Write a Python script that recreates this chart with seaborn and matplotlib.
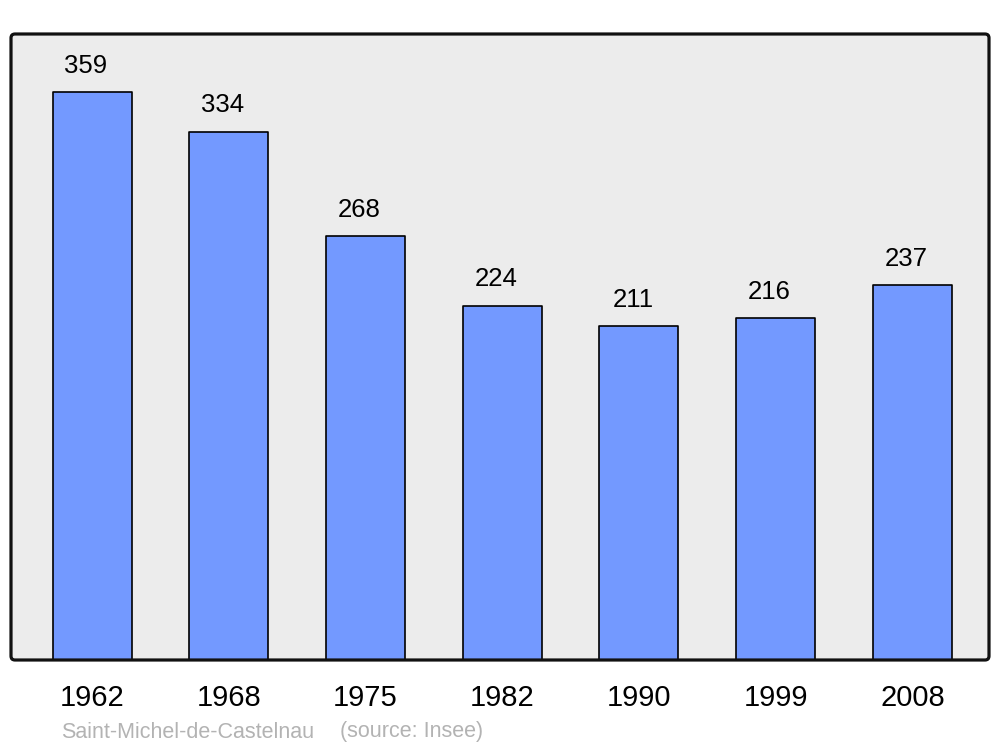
import matplotlib
matplotlib.use("Agg")
import matplotlib.pyplot as plt
import seaborn as sns
import pandas as pd
from matplotlib.patches import FancyBboxPatch

years = ["1962", "1968", "1975", "1982", "1990", "1999", "2008"]
population = [359, 334, 268, 224, 211, 216, 237]
place = "Saint-Michel-de-Castelnau"
source = "(source: Insee)"

sns.set_theme(style="white")
plt.rcParams['font.family'] = ['Liberation Sans', 'DejaVu Sans']

df = pd.DataFrame({"year": years, "pop": population})

fig = plt.figure(figsize=(10, 7.47), dpi=100)
ax = fig.add_axes([0.011, (747 - 660) / 747, 0.978, 626 / 747])
ax.set_facecolor("#ececec")

sns.barplot(data=df, x="year", y="pop", color="#7399ff", saturation=1,
            width=0.578, edgecolor="black", linewidth=1.2, ax=ax, zorder=3)
for p in ax.patches:
    p.set_joinstyle("round")

for i, v in enumerate(population):
    ax.text(i - 0.045, v + 16.6, str(v), ha="center", va="center",
            fontsize=18.5, color="black")

ax.set_xlim(-0.593, 6.56)
ax.set_ylim(0, 395.7)
ax.set_yticks([])
ax.set_xlabel("")
ax.set_ylabel("")
ax.tick_params(axis="x", length=0, pad=17, labelsize=21, colors="black")
for s in ax.spines.values():
    s.set_visible(False)

frame = FancyBboxPatch((11, 87), 978, 626, boxstyle="round,pad=0,rounding_size=4",
                       transform=None, facecolor="none", edgecolor="#111111",
                       linewidth=2.3, zorder=10)
fig.patches.append(frame)

fig.text(61 / 1000, (747 - 732) / 747, place, fontsize=15.5, color="#b3b3b3",
         ha="left", va="center")
fig.text(340 / 1000, (747 - 732) / 747, source, fontsize=15.5, color="#b3b3b3",
         ha="left", va="center")

fig.savefig("out.png", dpi=100)
